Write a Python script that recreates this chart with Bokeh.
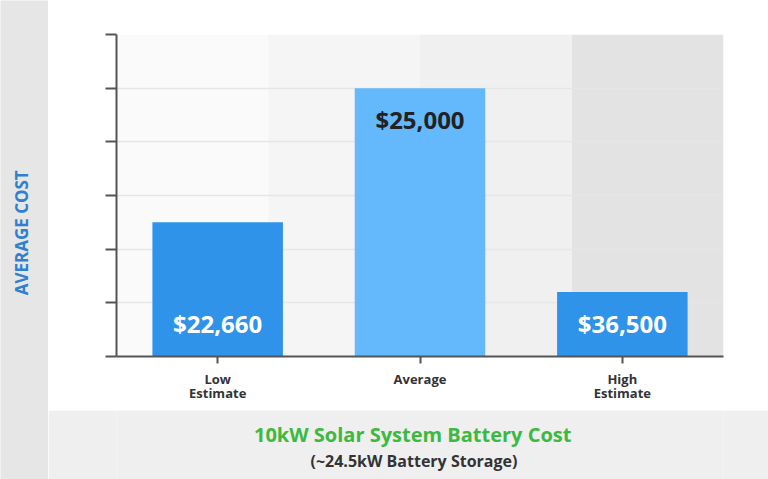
import numpy as np
from bokeh.plotting import figure
from bokeh.layouts import row, column
from bokeh.models import FactorRange, Range1d, FixedTicker, ColumnDataSource
from bokeh.core.properties import value
from bokeh.embed import file_html
from bokeh.resources import INLINE

# ---- data ----
categories = ["Low\nEstimate", "Average", "High\nEstimate"]
bar_heights = [2.5, 5.0, 1.2]
cost_labels = ["$22,660", "$25,000", "$36,500"]
bar_colors = ["#2f93ea", "#63b9fb", "#2f93ea"]
label_colors = ["#ffffff", "#222222", "#ffffff"]
label_at_top = [False, True, False]
y_ticks = [0, 1, 2, 3, 4, 5, 6]
band_colors = ["#fafafa", "#f5f5f5", "#f0f0f0", "#e3e3e3"]
title_text = "10kW Solar System Battery Cost"
subtitle_text = "(~24.5kW Battery Storage)"
y_axis_title = "AVERAGE COST"

FONT = value("Open Sans")


def blank(width, height, bg):
    f = figure(width=width, height=height, x_range=Range1d(0, 1), y_range=Range1d(0, 1),
               x_axis_type=None, y_axis_type=None, output_backend="svg",
               toolbar_location=None, min_border=0)
    f.outline_line_color = None
    f.background_fill_color = bg
    f.border_fill_color = bg
    f.grid.grid_line_color = None
    return f


# ---- left strip with vertical axis title ----
left = blank(48, 479, "#e6e6e6")
left.text(x=[0.43], y=[0.515], text=[y_axis_title], angle=np.pi / 2,
          text_align="center", text_baseline="middle", text_font=FONT,
          text_font_style="bold", text_font_size="17px", text_color="#2e80d0")

# ---- main chart ----
p = figure(x_range=FactorRange(*categories), y_range=Range1d(y_ticks[0], y_ticks[-1]),
           width=720, height=410, output_backend="svg", toolbar_location=None,
           min_border_left=68, min_border_right=45, min_border_top=34,
           min_border_bottom=54)
p.outline_line_color = None
p.background_fill_color = "white"
p.border_fill_color = "white"

edges = np.linspace(0, len(categories), len(band_colors) + 1)
p.quad(left=edges[:-1], right=edges[1:], bottom=y_ticks[0], top=y_ticks[-1],
       fill_color=band_colors, line_color=None, level="image")

p.vbar(x=categories, top=bar_heights, width=0.645, fill_color=bar_colors, line_color=None)

label_y = [h if t else 0 for h, t in zip(bar_heights, label_at_top)]
label_off = [31 if t else -33 for t in label_at_top]
src = ColumnDataSource(dict(x=categories, y=label_y, text=cost_labels,
                            color=label_colors, off=label_off))
p.text(x="x", y="y", text="text", text_color="color", y_offset="off", source=src,
       text_align="center", text_baseline="middle", text_font=FONT,
       text_font_style="bold", text_font_size="24px")

p.xaxis.axis_line_color = "#555555"
p.xaxis.axis_line_width = 2
p.xaxis.major_tick_line_color = "#555555"
p.xaxis.major_tick_line_width = 2
p.xaxis.major_tick_in = 0
p.xaxis.major_tick_out = 7
p.xaxis.major_label_text_font = "Open Sans"
p.xaxis.major_label_text_font_style = "bold"
p.xaxis.major_label_text_font_size = "13px"
p.xaxis.major_label_text_color = "#333333"
p.xaxis.major_label_text_line_height = 0.8
p.xaxis.major_label_standoff = 6
p.xgrid.grid_line_color = None

p.yaxis.ticker = FixedTicker(ticks=y_ticks)
p.yaxis.axis_line_color = "#555555"
p.yaxis.axis_line_width = 2
p.yaxis.major_tick_line_color = "#555555"
p.yaxis.major_tick_line_width = 2
p.yaxis.major_tick_in = 0
p.yaxis.major_tick_out = 11
p.yaxis.minor_tick_line_color = None
p.yaxis.major_label_text_color = None
p.ygrid.ticker = FixedTicker(ticks=y_ticks)
p.ygrid.grid_line_color = "#e6e6e6"
p.ygrid.grid_line_width = 1.5

# ---- bottom band with titles ----
bottom = blank(720, 69, "#efefef")
bottom.text(x=[0.488], y=[0.65], text=[title_text], text_align="center",
            text_baseline="middle", text_font=FONT, text_font_style="bold",
            text_font_size="20px", text_color="#3cb93f")
bottom.text(x=[0.49], y=[0.27], text=[subtitle_text], text_align="center",
            text_baseline="middle", text_font=FONT, text_font_style="bold",
            text_font_size="16px", text_color="#333333")

layout = row(left, column(p, bottom))
open("out.html", "w").write(file_html(layout, INLINE))
